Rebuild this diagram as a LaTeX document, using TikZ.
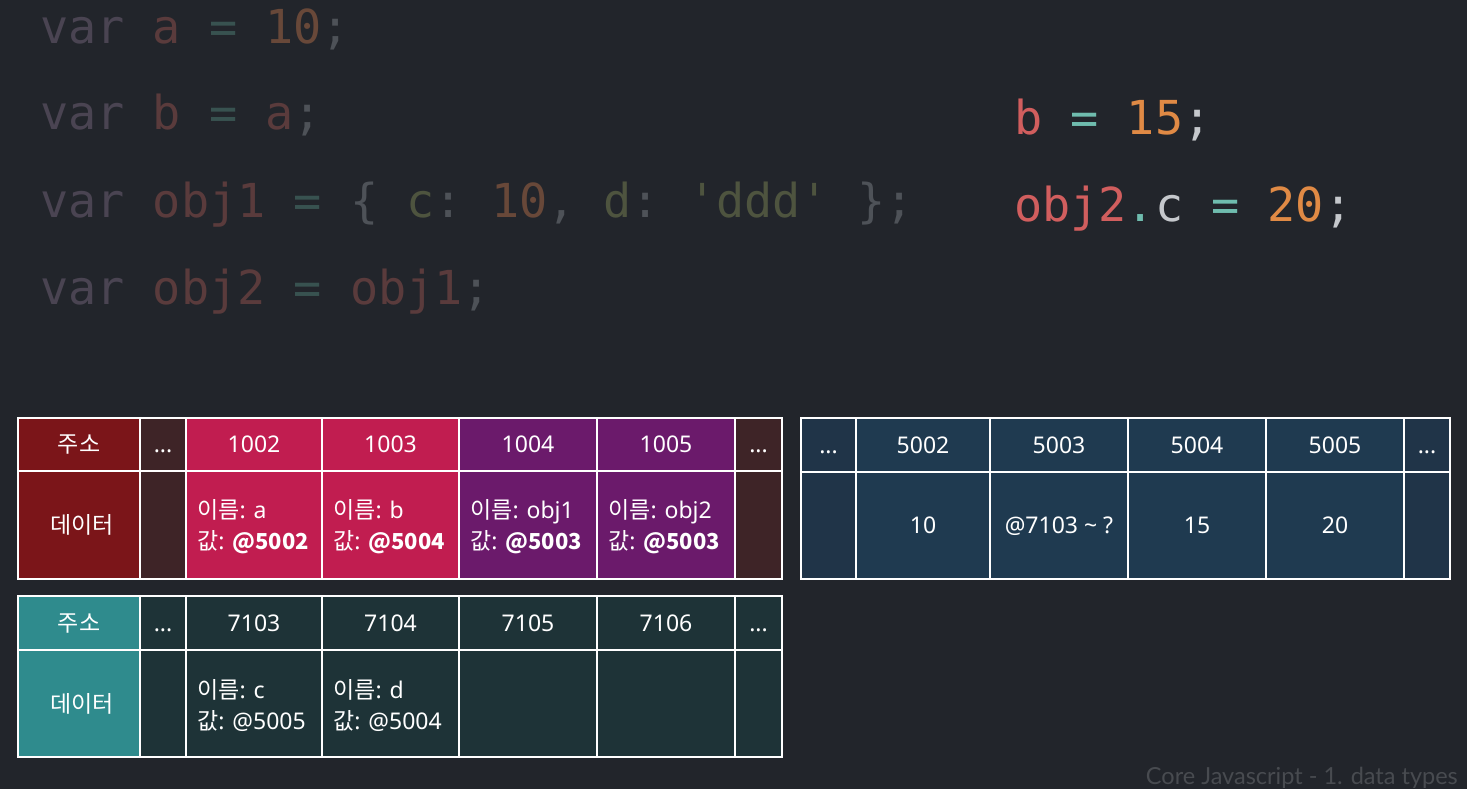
\documentclass[tikz,border=0pt]{standalone}
\usepackage{fontspec}
\usepackage{tikz}
\usetikzlibrary{positioning}
\setmainfont{Noto Sans}
\setmonofont{DejaVu Sans Mono}
\newfontfamily\kr{Noto Sans CJK KR}
\newfontfamily\lato{Lato}
\newcommand{\dotcell}{...}
\newcommand{\ko}[1]{{\kr #1}}
\newcommand{\bv}[1]{{\kr\bfseries\fontsize{22}{31}\selectfont #1}}

\definecolor{bg}{HTML}{22252B}
% faded code colours
\definecolor{kwd}{HTML}{4A4452}
\definecolor{idd}{HTML}{5A3B3C}
\definecolor{opd}{HTML}{385250}
\definecolor{numd}{HTML}{684839}
\definecolor{pund}{HTML}{4E5258}
\definecolor{strd}{HTML}{4E543F}
% bright code colours
\definecolor{idb}{HTML}{D15E5E}
\definecolor{opb}{HTML}{6FBCAE}
\definecolor{numb}{HTML}{E08A45}
\definecolor{punb}{HTML}{C5C8CC}
% table colours
\definecolor{redlbl}{HTML}{7B1519}
\definecolor{reddots}{HTML}{3E2427}
\definecolor{crimson}{HTML}{C11D50}
\definecolor{plum}{HTML}{6B1A6B}
\definecolor{teallbl}{HTML}{2F8B8D}
\definecolor{tealcell}{HTML}{1E3337}
\definecolor{bluecell}{HTML}{1F3A50}
\definecolor{bluedots}{HTML}{203448}
\definecolor{mark}{HTML}{484B50}

\begin{document}
\begin{tikzpicture}[x=1pt, y=-1pt,
    cell/.style={draw=white, line width=2.5pt, anchor=north west, inner sep=0pt, outer sep=0pt, text=white, text height=16.4pt, text depth=0pt, font=\fontsize{23}{26}\selectfont},
    code/.style={anchor=base west, inner sep=0pt, font=\ttfamily\fontsize{46.8}{46.8}\selectfont},
    val/.style={anchor=west, align=left, inner sep=0pt, text=white, font=\fontsize{23}{31}\selectfont}]
    \fill [bg] (0,0) rectangle (1467,789);

    % Code lines
    \node [code] (line1) at (40,44) {\textcolor{kwd}{var} \textcolor{idd}{a} \textcolor{opd}{=} \textcolor{numd}{10}\textcolor{pund}{;}};
    \node [code] (line2) at (40,130) {\textcolor{kwd}{var} \textcolor{idd}{b} \textcolor{opd}{=} \textcolor{idd}{a}\textcolor{pund}{;}};
    \node [code] (line3) at (40,217) {\textcolor{kwd}{var} \textcolor{idd}{obj1} \textcolor{opd}{=} \textcolor{pund}{\{} \textcolor{strd}{c}\textcolor{pund}{:} \textcolor{numd}{10}\textcolor{pund}{,} \textcolor{strd}{d}\textcolor{pund}{:} \textcolor{strd}{'ddd'} \textcolor{pund}{\};}};
    \node [code] (line4) at (40,304) {\textcolor{kwd}{var} \textcolor{idd}{obj2} \textcolor{opd}{=} \textcolor{idd}{obj1}\textcolor{pund}{;}};
    \node [code] (line5) at (1014,135) {\textcolor{idb}{b} \textcolor{opb}{=} \textcolor{numb}{15}\textcolor{punb}{;}};
    \node [code] (line6) at (1014,221) {\textcolor{idb}{obj2}\textcolor{opb}{.}\textcolor{punb}{c} \textcolor{opb}{=} \textcolor{numb}{20}\textcolor{punb}{;}};

    % Stack table
    \foreach \x/\w/\c/\t [count=\i] in {18/122/redlbl/\ko{주소}, 140/46/reddots/\dotcell, 186/136/crimson/1002, 322/137/crimson/1003, 459/138/plum/1004, 597/138/plum/1005, 735/47/reddots/\dotcell}
        \node [cell, fill=\c, minimum width=\w, minimum height=53] (sa\i) at (\x,418) {\t};
    \foreach \x/\w/\c [count=\i] in {18/122/redlbl, 140/46/reddots, 186/136/crimson, 322/137/crimson, 459/138/plum, 597/138/plum, 735/47/reddots}
        \node [cell, fill=\c, minimum width=\w, minimum height=108] (sd\i) at (\x,471) {};
    \node [val] at (sd1) [xshift=-29] {\ko{데이터}};
    \node [val, right=11 of sd3.west, yshift=-2] {\ko{이름}: a\\\ko{값}: \bv{@5002}};
    \node [val, right=11 of sd4.west, yshift=-2] {\ko{이름}: b\\\ko{값}: \bv{@5004}};
    \node [val, right=11 of sd5.west, yshift=-2] {\ko{이름}: obj1\\\ko{값}: \bv{@5003}};
    \node [val, right=11 of sd6.west, yshift=-2] {\ko{이름}: obj2\\\ko{값}: \bv{@5003}};

    % Object table
    \foreach \x/\w/\c/\t [count=\i] in {18/122/teallbl/\ko{주소}, 140/46/tealcell/\dotcell, 186/136/tealcell/7103, 322/137/tealcell/7104, 459/138/tealcell/7105, 597/138/tealcell/7106, 735/47/tealcell/\dotcell}
        \node [cell, fill=\c, minimum width=\w, minimum height=54] (oa\i) at (\x,596) {\t};
    \foreach \x/\w/\c [count=\i] in {18/122/teallbl, 140/46/tealcell, 186/136/tealcell, 322/137/tealcell, 459/138/tealcell, 597/138/tealcell, 735/47/tealcell}
        \node [cell, fill=\c, minimum width=\w, minimum height=107] (od\i) at (\x,650) {};
    \node [val] at (od1) [xshift=-29] {\ko{데이터}};
    \node [val, right=11 of od3.west, yshift=-2] {\ko{이름}: c\\\ko{값}: @5005};
    \node [val, right=11 of od4.west, yshift=-2] {\ko{이름}: d\\\ko{값}: @5004};

    % Value table
    \foreach \x/\w/\c/\t [count=\i] in {801/55/bluedots/\dotcell, 856/134/bluecell/5002, 990/138/bluecell/5003, 1128/138/bluecell/5004, 1266/138/bluecell/5005, 1404/46/bluedots/\dotcell}
        \node [cell, fill=\c, minimum width=\w, minimum height=54] (va\i) at (\x,418) {\t};
    \foreach \x/\w/\c/\t [count=\i] in {801/55/bluedots/{}, 856/134/bluecell/10, 990/138/bluecell/@7103 \textasciitilde{} ?, 1128/138/bluecell/15, 1266/138/bluecell/20, 1404/46/bluedots/{}}
        \node [cell, fill=\c, minimum width=\w, minimum height=107] (vd\i) at (\x,472) {\t};

    % Caption
    \node [anchor=base east, inner sep=0pt, text=mark, font=\lato\fontsize{23.5}{23.5}\selectfont] (mark) at (1458,784) {Core Javascript - 1. data types};
\end{tikzpicture}
\end{document}
